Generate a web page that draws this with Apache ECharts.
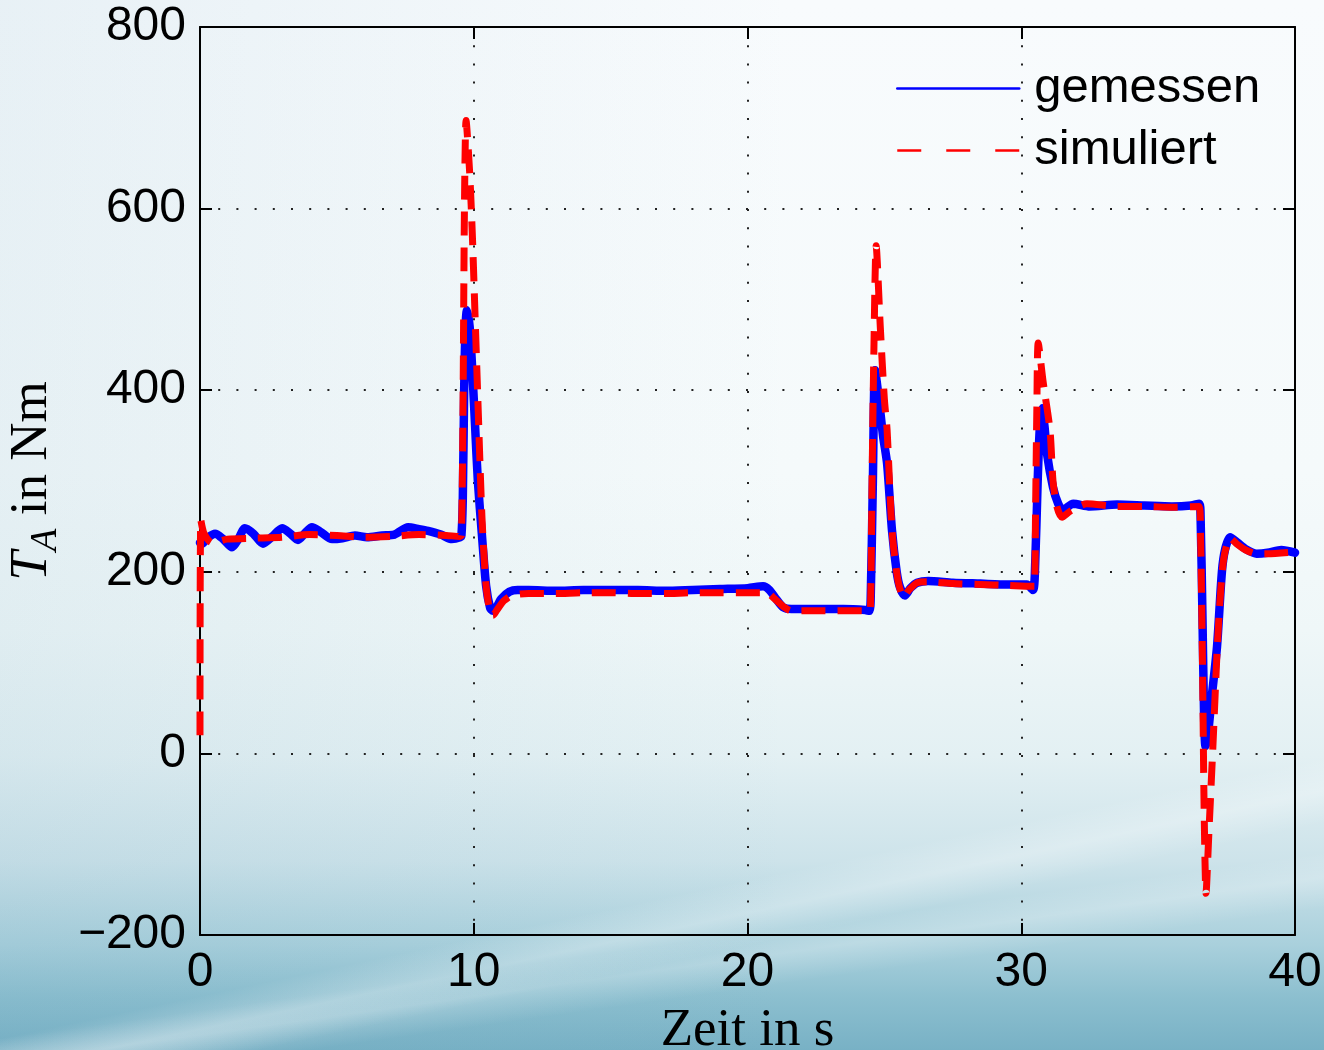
<!DOCTYPE html>
<html>
<head>
<meta charset="utf-8">
<script src="https://cdn.jsdelivr.net/npm/echarts@6/dist/echarts.min.js"></script>
<style>
html,body{margin:0;padding:0;width:1324px;height:1050px;overflow:hidden;}
body{
  background:
    linear-gradient(168deg, rgba(255,255,255,0) 78%, rgba(255,255,255,0.28) 80.5%, rgba(255,255,255,0) 83%),
    linear-gradient(172deg, rgba(255,255,255,0) 84%, rgba(255,255,255,0.22) 86%, rgba(255,255,255,0) 88.5%),
    linear-gradient(to right, rgba(90,150,180,0.10) 0%, rgba(90,150,180,0) 60%),
    linear-gradient(to bottom, #f8fbfd 0%, #f5fafb 45%, #eff7f8 60%, #e3f0f3 72%, #cde3ea 82%, #a9d0dc 90%, #8cbfcf 95%, #78b1c5 100%);
}
#chart{width:1324px;height:1050px;}
</style>
</head>
<body>
<div id="chart"></div>
<script>
// Time axis (s) and torque values (Nm)
const xTicks = [0, 10, 20, 30, 40];
const yTicks = [-200, 0, 200, 400, 600, 800];

const tMeas = [0.0, 0.07, 0.3, 0.55, 0.85, 1.17, 1.4, 1.64, 1.95, 2.3, 2.65, 3.0, 3.3, 3.58, 3.85, 4.09, 4.4, 4.82, 5.2, 5.66, 6.1, 6.65, 7.1, 7.6, 8.0, 8.33, 8.8, 9.2, 9.5,
  9.55, 9.6, 9.65, 9.7, 9.75, 9.85, 9.95, 10.05, 10.15, 10.3, 10.45, 10.6, 10.7, 10.85, 11.0, 11.3, 11.6,
  12.0, 13.0, 14.0, 15.0, 16.0, 17.0, 18.0, 19.0, 20.0, 20.57, 20.8, 21.05, 21.3, 21.6, 22.5, 23.5, 24.3, 24.45,
  24.5, 24.58, 24.66, 24.8, 24.95, 25.1, 25.28, 25.45, 25.57, 25.75, 25.95, 26.2, 26.6, 27.5, 28.5, 29.5, 30.2, 30.43,
  30.5, 30.6, 30.68, 30.76, 30.85, 30.94, 31.16, 31.35, 31.52, 31.9, 32.5, 33.5, 34.5, 35.5, 36.2, 36.5,
  36.55, 36.62, 36.68, 36.73, 36.8, 36.95, 37.15, 37.33, 37.45, 37.63, 37.9, 38.2, 38.6, 39.0, 39.5, 40.0];
const vMeas = [232, 231, 238, 242, 236, 227, 236, 248, 242, 231, 239, 248, 242, 235, 243, 249, 244, 236, 237, 240, 238, 240, 241, 249, 247, 245, 241, 236, 238,
  240, 280, 400, 470, 488, 470, 420, 360, 300, 240, 185, 160, 157, 162, 170, 178, 180,
  180, 179, 180, 180, 180, 179, 180, 181, 182, 184, 180, 170, 161, 159, 159, 159, 158, 157,
  170, 300, 422, 390, 350, 319, 245, 200, 183, 174, 182, 188, 190, 188, 187, 186, 186, 180,
  200, 300, 360, 380, 360, 330, 293, 275, 268, 275, 272, 274, 273, 272, 273, 275,
  262, 150, 40, 8, 15, 60, 117, 200, 225, 238, 232, 225, 220, 221, 224, 221];

const tSim = [0.0, 0.03, 0.15, 0.44, 1.0, 2.0, 3.0, 4.0, 5.0, 6.0, 7.0, 8.0, 9.0, 9.5, 9.55,
  9.6, 9.66, 9.72, 9.85, 9.95, 10.05, 10.15, 10.3, 10.45, 10.6, 10.7, 10.85, 11.1, 11.4, 12.0,
  13.0, 14.0, 15.0, 16.0, 17.0, 18.0, 19.0, 20.0, 20.7, 21.0, 21.3, 21.6, 22.5, 23.5, 24.45,
  24.5, 24.55, 24.62, 24.7, 24.85, 25.0, 25.1, 25.2, 25.3, 25.5, 25.7, 25.9, 26.2, 26.6, 27.5, 28.5, 29.5, 30.4, 30.48,
  30.52, 30.57, 30.62, 30.8, 31.05, 31.16, 31.3, 31.49, 31.8, 32.4, 33.5, 34.5, 35.5, 36.5,
  36.55, 36.62, 36.68, 36.75, 36.85, 37.0, 37.15, 37.26, 37.4, 37.63, 37.9, 38.2, 38.6, 39.0, 40.0];
const vSim = [20, 257, 242, 232, 236, 237, 238, 241, 240, 238, 239, 241, 240, 239, 240,
  350, 600, 697, 640, 570, 480, 390, 260, 185, 155, 152, 158, 168, 174, 176,
  176, 177, 177, 176, 176, 177, 177, 177, 177, 170, 162, 157, 157, 157, 157,
  170, 300, 450, 559, 470, 390, 356, 290, 238, 190, 172, 180, 188, 189, 187, 186, 185, 184, 184,
  260, 380, 452, 409, 356, 300, 272, 260, 267, 275, 272, 272, 271, 272,
  240, 100, -60, -154, -90, 7, 110, 168, 215, 237, 230, 224, 220, 220, 222];

const seriesNames = ['gemessen', 'simuliert'];

function zip(t, v) { return t.map((x, i) => [x, v[i]]); }

const chart = echarts.init(document.getElementById('chart'), null, {renderer: 'canvas'});
const sans = 'Liberation Sans';
const serif = 'Liberation Serif';
const dotted = {color: '#222', width: 2, type: [2, 16.2]};

chart.setOption({
  backgroundColor: 'transparent',
  animation: false,
  grid: {left: 200, right: 29, top: 27, bottom: 115, containLabel: false, outerBoundsMode: 'none'},
  legend: {
    orient: 'vertical',
    left: 891, top: 57,
    itemWidth: 122, itemHeight: 20, itemGap: 9,
    textStyle: {fontFamily: sans, fontSize: 49, color: '#000', lineHeight: 53, padding: [0, 0, 0, 10]},
    data: [
      {name: seriesNames[0], itemStyle: {opacity: 0}, lineStyle: {width: 2.5, color: '#0000ff', type: 'solid', opacity: 1}},
      {name: seriesNames[1], itemStyle: {opacity: 0}, lineStyle: {width: 2.5, color: '#ff0000', type: [24, 25], opacity: 1}}
    ]
  },
  xAxis: [{
    type: 'value', min: xTicks[0], max: xTicks[xTicks.length - 1], interval: 10,
    name: 'Zeit in s', nameLocation: 'middle', nameGap: 70,
    nameTextStyle: {fontFamily: serif, fontSize: 53, color: '#000'},
    axisLine: {show: true, onZero: false, lineStyle: {color: '#000', width: 2}},
    axisTick: {show: true, inside: true, length: 12, lineStyle: {color: '#000', width: 2}},
    axisLabel: {fontFamily: sans, fontSize: 48, color: '#000', margin: 14},
    splitLine: {show: true, lineStyle: dotted}
  }, {
    type: 'value', position: 'top', min: xTicks[0], max: xTicks[xTicks.length - 1], interval: 10,
    axisLine: {show: true, onZero: false, lineStyle: {color: '#000', width: 2}},
    axisTick: {show: true, inside: true, length: 12, lineStyle: {color: '#000', width: 2}},
    axisLabel: {show: false}, splitLine: {show: false}
  }],
  yAxis: [{
    type: 'value', min: yTicks[0], max: yTicks[yTicks.length - 1], interval: 200,
    name: '{it|T}{sub|A}{rm| in Nm}', nameLocation: 'middle', nameGap: 135, nameRotate: 90,
    nameTextStyle: {
      color: '#000', fontFamily: serif, fontSize: 53,
      rich: {
        it: {fontFamily: serif, fontStyle: 'italic', fontSize: 53, color: '#000'},
        sub: {fontFamily: serif, fontStyle: 'italic', fontSize: 37, color: '#000', padding: [28, 0, 0, 0]},
        rm: {fontFamily: serif, fontSize: 53, color: '#000'}
      }
    },
    axisLine: {show: true, onZero: false, lineStyle: {color: '#000', width: 2}},
    axisTick: {show: true, inside: true, length: 12, lineStyle: {color: '#000', width: 2}},
    axisLabel: {fontFamily: sans, fontSize: 48, color: '#000', margin: 14,
      formatter: v => v < 0 ? '\u2212' + Math.abs(v) : String(v)},
    splitLine: {show: true, lineStyle: dotted}
  }, {
    type: 'value', position: 'right', min: yTicks[0], max: yTicks[yTicks.length - 1], interval: 200,
    axisLine: {show: true, onZero: false, lineStyle: {color: '#000', width: 2}},
    axisTick: {show: true, inside: true, length: 12, lineStyle: {color: '#000', width: 2}},
    axisLabel: {show: false}, splitLine: {show: false}
  }],
  series: [{
    name: seriesNames[0], type: 'line', xAxisIndex: 0, yAxisIndex: 0,
    data: zip(tMeas, vMeas), symbol: 'none', showSymbol: false, smooth: 0.25,
    lineStyle: {color: '#0000ff', width: 8.5, cap: 'round', join: 'round'},
    itemStyle: {color: '#0000ff'}, z: 2
  }, {
    name: seriesNames[1], type: 'line', xAxisIndex: 0, yAxisIndex: 0,
    data: zip(tSim, vSim), symbol: 'none', showSymbol: false, smooth: 0.25,
    lineStyle: {color: '#ff0000', width: 7, type: [24, 12], cap: 'butt', join: 'round'},
    itemStyle: {color: '#ff0000'}, z: 3
  }]
});
</script>
</body>
</html>
